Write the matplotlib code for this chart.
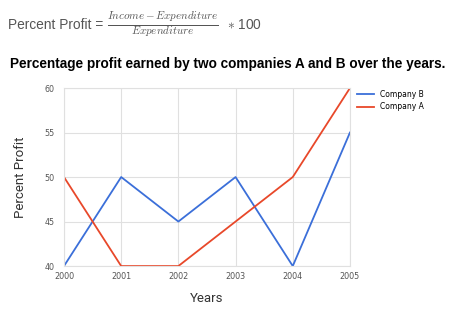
import matplotlib
matplotlib.use("Agg")
import matplotlib.pyplot as plt

years = [2000, 2001, 2002, 2003, 2004, 2005]
company_b = [40, 50, 45, 50, 40, 55]
company_a = [50, 40, 40, 45, 50, 60]

plt.rcParams['mathtext.fontset'] = 'cm'

W, H = 465, 319
fig = plt.figure(figsize=(W / 100, H / 100), dpi=100)
ax = fig.add_axes([0.1376, 0.166, 0.615, 0.558])

# lines
ax.plot(years, company_b, color='#3b6fd9', lw=1.3, label='Company B')
ax.plot(years, company_a, color='#e8482a', lw=1.3, label='Company A')

ax.set_xlim(2000, 2005)
ax.set_ylim(40, 60)
ax.set_xticks(years)
ax.set_yticks([40, 45, 50, 55, 60])
ax.grid(True, color='#e0e0e0', lw=0.8)
ax.set_axisbelow(True)
for s in ax.spines.values():
    s.set_color('#e0e0e0')
    s.set_linewidth(0.8)
ax.tick_params(length=0, labelsize=5.8, labelcolor='#555555')
ax.tick_params(axis='y', pad=7)
ax.tick_params(axis='x', pad=4)

ax.set_xlabel('Years', fontsize=9.5, color='#333333', labelpad=8, family='Roboto')
ax.set_ylabel('Percent Profit', fontsize=9.5, color='#333333', labelpad=12, family='Roboto')

ax.legend(loc='upper left', bbox_to_anchor=(1.0, 1.03), frameon=False,
          fontsize=5.5, handlelength=2.2, labelspacing=0.5)

# formula line, built from three pieces
fig.text(8 / W, 1 - 25 / H, 'Percent Profit =', fontsize=9.9, color='#555555',
         va='center', family='Liberation Sans')
fig.text(107 / W, 1 - 25 / H, r'$\frac{Income - Expenditure}{Expenditure}$',
         fontsize=11.3, color='#555555', va='center')
fig.text(227 / W, 1 - 25 / H, r'$\ast$ 100', fontsize=9.9, color='#555555',
         va='center', family='Liberation Sans')

fig.text(10 / W, 1 - 64 / H, 'Percentage profit earned by two companies A and B over the years.',
         fontsize=9.8, fontweight='bold', color='black', va='center', family='Liberation Sans')

fig.savefig('out.png', dpi=100)
